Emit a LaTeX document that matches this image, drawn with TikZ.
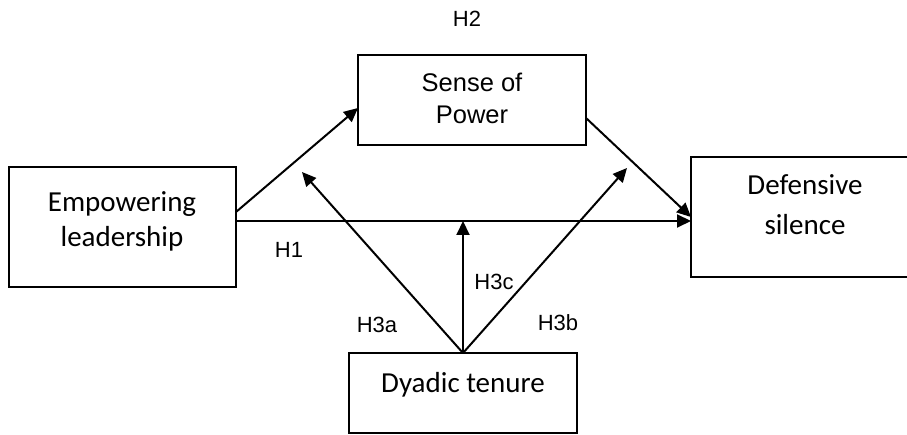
\documentclass[tikz,border=0pt]{standalone}
\usepackage{fontspec}
\setmainfont{Carlito}
\newfontfamily\arialf{Liberation Sans}
\usetikzlibrary{arrows.meta,calc}
\begin{document}
\begin{tikzpicture}[x=1bp,y=-1bp,
  box/.style={draw,line width=1.5bp,inner sep=0,outer sep=0,rectangle},
  conn/.style={line width=2bp,-{Triangle[length=14bp,width=13bp]}},
  hlab/.style={font=\arialf\fontsize{22bp}{26bp}\selectfont,inner sep=0},
  clab/.style={font=\fontsize{29bp}{35bp}\selectfont,align=center,inner sep=0},
]
\useasboundingbox (0,0) rectangle (907,435);
\clip (0,0) rectangle (907,435);
% boxes
\node[box,minimum width=227bp,minimum height=120bp] (emp) at (122.5,227) {};
\node[box,minimum width=228bp,minimum height=90bp] (sop) at (472,100) {};
\node[box,minimum width=240bp,minimum height=120bp] (def) at (811,217) {};
\node[box,minimum width=228bp,minimum height=80bp] (dya) at (463,393) {};
% box texts
\node[clab] (empt) at (122,221.5) {Empowering\\leadership};
\node[font=\arialf\fontsize{25.5bp}{32bp}\selectfont,align=center,inner sep=0] (sopt) at (472,98) {Sense of\\Power};
\node[clab,font=\fontsize{29bp}{40bp}\selectfont] (deft) at (805,205) {Defensive\\silence};
\node[clab] (dyat) at (463,385) {Dyadic tenure};
% connectors
\draw[conn] ([yshift=15bp]emp.east) -- ([yshift=-8bp]sop.west);
\draw[conn] ([yshift=-18bp]sop.east) -- (def.west);
\coordinate (h1s) at ([yshift=6bp]emp.east);
\draw[conn] (h1s) -- (h1s -| def.west);
\coordinate (ta) at (302,172);
\coordinate (tb) at (627,168);
\draw[conn] (dya.north) -- (ta);
\draw[conn] (dya.north) -- (dya.north |- h1s);
\draw[conn] (dya.north) -- (tb);
% labels
\node[hlab] (h2) at (467,19) {H2};
\node[hlab] (h1) at (289,250) {H1};
\node[hlab] (h3a) at (377,325) {H3a};
\node[hlab] (h3c) at (494,282) {H3c};
\node[hlab] (h3b) at (558,323) {H3b};
\end{tikzpicture}
\end{document}
